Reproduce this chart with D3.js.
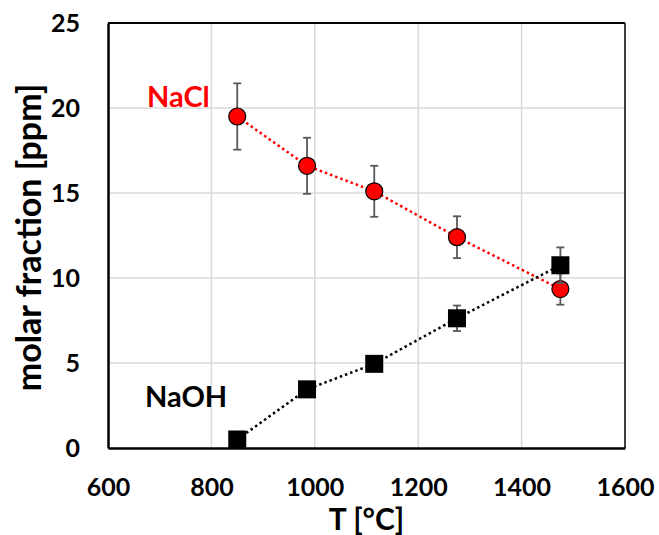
<!DOCTYPE html>
<html lang="en">
<head>
<meta charset="UTF-8">
<title>Molar fraction vs T</title>
<script src="https://d3js.org/d3.v7.min.js"></script>
<style>
  body { margin: 0; background: #fff; }
  text { font-family: Lato, "Open Sans", sans-serif; font-weight: bold; }
</style>
</head>
<body>
<div id="chart"></div>
<script>
// data
var temps = [850, 985, 1115, 1275, 1475];
var nacl = [19.5, 16.6, 15.1, 12.4, 9.35];
var naclErr = [1.95, 1.65, 1.5, 1.23, 0.92];
var naoh = [0.5, 3.45, 4.95, 7.63, 10.75];
var naohErr = [0.2, 0.25, 0.3, 0.75, 1.05];
var xTicks = [600, 800, 1000, 1200, 1400, 1600];
var yTicks = [0, 5, 10, 15, 20, 25];

var width = 659, height = 535;
var margin = { top: 23, right: 34, bottom: 87, left: 108 };

var svg = d3.select("#chart").append("svg")
    .attr("width", width)
    .attr("height", height);

var x = d3.scaleLinear().domain([600, 1600]).range([margin.left, width - margin.right]);
var y = d3.scaleLinear().domain([0, 25]).range([height - margin.bottom, margin.top]);

// gridlines
svg.append("g").selectAll("line.vx")
    .data(xTicks.slice(1, -1))
    .enter().append("line")
    .attr("x1", d => x(d)).attr("x2", d => x(d))
    .attr("y1", y(0)).attr("y2", y(25))
    .attr("stroke", "#d9d9d9").attr("stroke-width", 1.5);

svg.append("g").selectAll("line.hy")
    .data(yTicks.slice(1, -1))
    .enter().append("line")
    .attr("x1", x(600)).attr("x2", x(1600))
    .attr("y1", d => y(d)).attr("y2", d => y(d))
    .attr("stroke", "#d9d9d9").attr("stroke-width", 1.5);

// frame
svg.append("line").attr("x1", x(1600)).attr("x2", x(1600))
    .attr("y1", y(25)).attr("y2", y(0))
    .attr("stroke", "#404040").attr("stroke-width", 2);
svg.append("line").attr("x1", x(600)).attr("x2", x(1600))
    .attr("y1", y(25)).attr("y2", y(25))
    .attr("stroke", "#000").attr("stroke-width", 2);

// axes
var xAxis = svg.append("g")
    .attr("transform", "translate(0," + y(0) + ")")
    .call(d3.axisBottom(x).tickValues(xTicks).tickFormat(d3.format("d")).tickSize(0).tickPadding(30));
xAxis.select(".domain").attr("stroke", "#000").attr("stroke-width", 2.5);
xAxis.selectAll("text").attr("font-size", 25).attr("fill", "#000")
    .style("font-family", "Lato, sans-serif").style("font-weight", "bold");

var yAxis = svg.append("g")
    .attr("transform", "translate(" + x(600) + ",0)")
    .call(d3.axisLeft(y).tickValues(yTicks).tickSize(0).tickPadding(28));
yAxis.select(".domain").attr("stroke", "#000").attr("stroke-width", 2.5);
yAxis.selectAll("text").attr("font-size", 25).attr("fill", "#000")
    .style("font-family", "Lato, sans-serif").style("font-weight", "bold");

// axis titles
svg.append("text")
    .attr("x", (x(600) + x(1600)) / 2)
    .attr("y", 530)
    .attr("text-anchor", "middle")
    .attr("font-size", 30)
    .text("T [°C]");

svg.append("text")
    .attr("transform", "translate(41," + ((y(0) + y(25)) / 2 + 2) + ") rotate(-90)")
    .attr("text-anchor", "middle")
    .attr("font-size", 34)
    .text("molar fraction [ppm]");

function drawSeries(vals, errs, color, shape) {
    var line = d3.line().x((d, i) => x(temps[i])).y(d => y(d));
    svg.append("path")
        .datum(vals)
        .attr("d", line)
        .attr("fill", "none")
        .attr("stroke", color)
        .attr("stroke-width", 2.5)
        .attr("stroke-dasharray", "2.5,3");

    var g = svg.append("g");
    g.selectAll("line.err")
        .data(vals)
        .enter().append("line")
        .attr("x1", (d, i) => x(temps[i])).attr("x2", (d, i) => x(temps[i]))
        .attr("y1", (d, i) => y(d + errs[i])).attr("y2", (d, i) => y(d - errs[i]))
        .attr("stroke", "#595959").attr("stroke-width", 1.8);
    [1, -1].forEach(function (s) {
        g.selectAll("line.cap" + s)
            .data(vals)
            .enter().append("line")
            .attr("x1", (d, i) => x(temps[i]) - 4).attr("x2", (d, i) => x(temps[i]) + 4)
            .attr("y1", (d, i) => y(d + s * errs[i])).attr("y2", (d, i) => y(d + s * errs[i]))
            .attr("stroke", "#595959").attr("stroke-width", 1.8);
    });

    if (shape === "circle") {
        svg.append("g").selectAll("circle")
            .data(vals)
            .enter().append("circle")
            .attr("cx", (d, i) => x(temps[i]))
            .attr("cy", d => y(d))
            .attr("r", 8.5)
            .attr("fill", color)
            .attr("stroke", "#000")
            .attr("stroke-width", 1.2);
    } else {
        svg.append("g").selectAll("rect")
            .data(vals)
            .enter().append("rect")
            .attr("x", (d, i) => x(temps[i]) - 9)
            .attr("y", d => y(d) - 9)
            .attr("width", 18)
            .attr("height", 18)
            .attr("fill", color);
    }
}

drawSeries(nacl, naclErr, "#ff0000", "circle");
drawSeries(naoh, naohErr, "#000000", "square");

// series labels
svg.append("text")
    .attr("x", 147).attr("y", 107)
    .attr("font-size", 29)
    .attr("fill", "#ff0000")
    .text("NaCl");
svg.append("text")
    .attr("x", 145).attr("y", 407)
    .attr("font-size", 29)
    .attr("fill", "#000")
    .text("NaOH");
</script>
</body>
</html>
